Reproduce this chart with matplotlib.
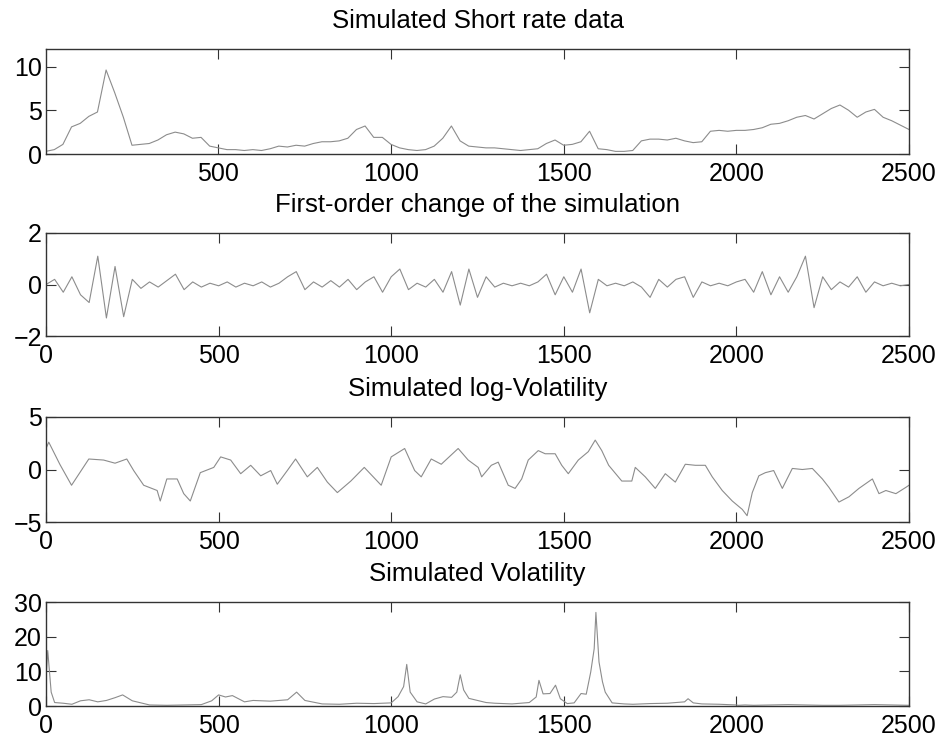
import numpy as np
import matplotlib
matplotlib.use("Agg")
import matplotlib.pyplot as plt

plt.rcParams['font.family'] = ['Liberation Sans', 'DejaVu Sans']

# ---- data ----
# simulated short rate, sampled every 25 steps
rate_t = np.arange(0, 2501, 25)
rate = [0.3, 0.5, 1.1, 3.1, 3.5, 4.3, 4.8, 9.6, 7.0, 4.2,
        1.0, 1.1, 1.2, 1.6, 2.2, 2.5, 2.3, 1.8, 1.9, 0.9,
        0.7, 0.5, 0.5, 0.4, 0.5, 0.4, 0.6, 0.9, 0.8, 1.0,
        0.9, 1.2, 1.4, 1.4, 1.5, 1.8, 2.8, 3.2, 1.9, 1.9,
        1.1, 0.7, 0.5, 0.4, 0.5, 0.9, 1.8, 3.2, 1.5, 0.9,
        0.8, 0.7, 0.7, 0.6, 0.5, 0.4, 0.5, 0.6, 1.2, 1.6,
        1.0, 1.1, 1.4, 2.6, 0.6, 0.5, 0.3, 0.3, 0.4, 1.5,
        1.7, 1.7, 1.6, 1.8, 1.5, 1.3, 1.4, 2.6, 2.7, 2.6,
        2.7, 2.7, 2.8, 3.0, 3.4, 3.5, 3.8, 4.2, 4.4, 4.0,
        4.6, 5.2, 5.6, 5.0, 4.2, 4.8, 5.1, 4.2, 3.8, 3.3,
        2.8]

# first-order change, same grid
change_t = np.arange(0, 2501, 25)
change = [0.0, 0.2, -0.3, 0.3, -0.4, -0.7, 1.1, -1.3, 0.7, -1.25,
          0.2, -0.15, 0.1, -0.1, 0.15, 0.4, -0.2, 0.1, -0.1, 0.05,
          -0.05, 0.1, -0.1, 0.05, -0.05, 0.1, -0.1, 0.05, 0.3, 0.5,
          -0.2, 0.1, -0.1, 0.15, -0.1, 0.2, -0.2, 0.1, 0.3, -0.3,
          0.3, 0.6, -0.2, 0.05, -0.1, 0.2, -0.3, 0.5, -0.8, 0.6,
          -0.5, 0.3, -0.1, 0.05, -0.05, 0.05, -0.05, 0.1, 0.4, -0.4,
          0.3, -0.3, 0.6, -1.1, 0.2, -0.05, 0.05, -0.05, 0.1, -0.1,
          -0.5, 0.2, -0.1, 0.2, 0.3, -0.5, 0.1, -0.05, 0.05, -0.05,
          0.1, 0.2, -0.3, 0.5, -0.4, 0.3, -0.3, 0.3, 1.1, -0.9,
          0.3, -0.2, 0.1, -0.1, 0.3, -0.3, 0.1, -0.05, 0.05, -0.05,
          0.0]

# simulated log-volatility
logvol_t = [0, 8, 40, 74, 108, 124, 167, 200, 234, 254, 283, 322, 331, 350, 380,
            399, 418, 447, 486, 506, 535, 564, 593, 622, 651, 670, 699, 723, 757, 786,
            815, 844, 883, 922, 971, 1000, 1039, 1068, 1087, 1116, 1145, 1194, 1223, 1252, 1262,
            1290, 1310, 1339, 1359, 1378, 1397, 1426, 1446, 1475, 1494, 1513, 1542, 1571, 1591, 1610,
            1630, 1668, 1697, 1707, 1736, 1765, 1794, 1823, 1852, 1881, 1910, 1930, 1959, 1988, 2017,
            2031, 2046, 2065, 2084, 2108, 2133, 2162, 2191, 2220, 2249, 2268, 2297, 2326, 2355, 2394,
            2413, 2433, 2462, 2491, 2500]
logvol = [2.0, 2.6, 0.5, -1.5, 0.2, 1.0, 0.9, 0.6, 1.0, -0.1, -1.5, -2.0, -3.0, -0.9, -0.9,
          -2.3, -3.0, -0.3, 0.2, 1.2, 0.9, -0.4, 0.4, -0.6, -0.1, -1.4, -0.1, 1.0, -0.7, 0.2,
          -1.2, -2.2, -1.1, 0.2, -1.5, 1.2, 2.0, -0.1, -0.7, 1.0, 0.5, 2.0, 0.9, 0.2, -0.7,
          0.4, 0.7, -1.5, -1.8, -0.9, 0.9, 1.8, 1.5, 1.5, 0.4, -0.4, 0.9, 1.7, 2.8, 1.8,
          0.4, -1.1, -1.1, 0.2, -0.7, -1.8, -0.4, -1.2, 0.5, 0.4, 0.4, -0.7, -2.0, -3.0, -3.8,
          -4.4, -2.2, -0.6, -0.3, -0.1, -1.8, 0.1, 0.0, 0.1, -0.9, -1.7, -3.1, -2.6, -1.8, -0.9,
          -2.3, -2.0, -2.3, -1.7, -1.5]

# simulated volatility
vol_t = [0, 5, 10, 15, 25, 50, 75, 100, 125, 150, 175, 200, 222, 250, 300,
         350, 400, 450, 480, 500, 520, 540, 575, 600, 650, 700, 726, 750, 800, 850,
         900, 950, 1000, 1020, 1036, 1045, 1055, 1075, 1100, 1125, 1150, 1175, 1190, 1200, 1210,
         1225, 1250, 1275, 1300, 1350, 1400, 1420, 1428, 1440, 1460, 1476, 1490, 1510, 1530, 1550,
         1565, 1578, 1588, 1593, 1602, 1612, 1620, 1640, 1675, 1700, 1750, 1800, 1850, 1860, 1875,
         1900, 1950, 2000, 2005, 2025, 2050, 2100, 2150, 2200, 2250, 2300, 2350, 2400, 2450, 2500]
vol = [8, 16, 10, 4, 1.0, 0.8, 0.5, 1.5, 1.8, 1.2, 1.6, 2.4, 3.2, 1.5, 0.3,
       0.2, 0.3, 0.4, 1.5, 3.2, 2.6, 3.0, 1.2, 1.6, 1.4, 1.8, 4.0, 1.6, 0.6, 0.5,
       0.8, 0.7, 0.9, 2.7, 5.6, 12, 4.0, 1.2, 0.6, 2.0, 2.7, 2.5, 4.0, 9.0, 4.6,
       2.2, 1.6, 1.0, 0.8, 0.6, 1.0, 2.6, 7.4, 3.5, 3.6, 6.0, 2.1, 0.7, 0.9, 3.6,
       3.4, 9.8, 16.5, 27, 12.7, 7.0, 4.0, 0.9, 0.6, 0.5, 0.7, 0.8, 1.2, 2.1, 0.9,
       0.6, 0.5, 0.3, 0.2, 0.3, 0.2, 0.3, 0.4, 0.3, 0.2, 0.2, 0.3, 0.4, 0.3, 0.2]

panels = [
    ("Simulated Short rate data", rate_t, rate, (1, 2500), (0, 12), [0, 5, 10], [500, 1000, 1500, 2000, 2500]),
    ("First-order change of the simulation", change_t, change, (0, 2500), (-2, 2), [-2, 0, 2], [0, 500, 1000, 1500, 2000, 2500]),
    ("Simulated log-Volatility", logvol_t, logvol, (0, 2500), (-5, 5), [-5, 0, 5], [0, 500, 1000, 1500, 2000, 2500]),
    ("Simulated Volatility", vol_t, vol, (0, 2500), (0, 30), [0, 10, 20, 30], [0, 500, 1000, 1500, 2000, 2500]),
]

W, H = 951, 742
fig = plt.figure(figsize=(W / 100, H / 100), dpi=100)

# axes boxes in pixels: (top, bottom)
boxes = [(49, 154), (233, 336), (417, 522), (602, 706)]
left, right = 46, 909

for (title, t, y, xl, yl, yt, xt), (top, bot) in zip(panels, boxes):
    ax = fig.add_axes([left / W, (H - bot) / H, (right - left) / W, (bot - top) / H])
    ax.plot(t, y, color='#8c8c8c', lw=0.8)
    ax.set_xlim(*xl)
    ax.set_ylim(*yl)
    ax.set_xticks(xt)
    ax.set_yticks(yt)
    ax.tick_params(direction='in', top=True, right=True, labelsize=18,
                   length=7, width=0.8, color='#333333')
    ax.tick_params(axis='x', pad=6)
    ax.tick_params(axis='y', pad=3)
    for s in ax.spines.values():
        s.set_color('#333333')
        s.set_linewidth(1.0)
    ax.set_title(title, fontsize=18.5, pad=15)

fig.savefig("out.png", dpi=100)
